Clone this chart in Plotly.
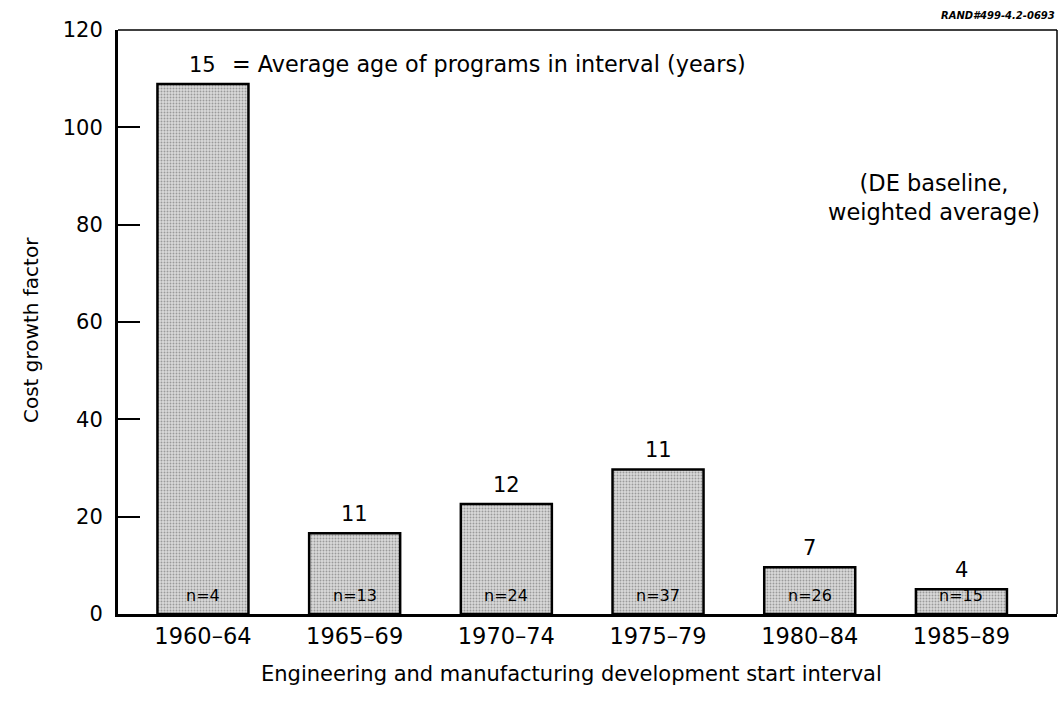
import plotly.graph_objects as go

intervals = ["1960–64", "1965–69", "1970–74", "1975–79", "1980–84", "1985–89"]
cost_growth = [108.9, 16.6, 22.6, 29.7, 9.6, 5.1]
avg_age = [15, 11, 12, 11, 7, 4]
n_programs = [4, 13, 24, 37, 26, 15]
y_ticks = [0, 20, 40, 60, 80, 100, 120]

FONT = "DejaVu Sans, Verdana, sans-serif"
xs = list(range(len(intervals)))

fig = go.Figure()
fig.add_trace(go.Bar(
    x=xs, y=cost_growth, width=0.6,
    marker=dict(color="#d0d0d0",
                line=dict(color="black", width=2.5),
                pattern=dict(shape=".", fgcolor="#5a5a5a", bgcolor="#dadada",
                             size=3, solidity=0.32)),
    hoverinfo="skip", showlegend=False,
))

annotations = []
for i in xs:
    annotations.append(dict(x=i, y=cost_growth[i], xref="x", yref="y", text=str(avg_age[i]),
                            showarrow=False, yanchor="bottom", yshift=5,
                            font=dict(size=21, color="black", family=FONT)))
    annotations.append(dict(x=i, y=0, xref="x", yref="y", text=f"n={n_programs[i]}",
                            showarrow=False, yanchor="middle", yshift=19,
                            font=dict(size=16, color="black", family=FONT)))

annotations += [
    dict(x=0.18, y=cost_growth[0], xref="x", yref="y", xanchor="left", yanchor="bottom", yshift=5,
         text="= Average age of programs in interval (years)", showarrow=False,
         font=dict(size=22.3, color="black", family=FONT)),
    dict(x=(934 - 118) / 939, y=85.5, xref="paper", yref="y", xanchor="center", yanchor="middle",
         text="(DE baseline,<br>weighted average)", showarrow=False, align="center",
         font=dict(size=22.5, color="black", family=FONT)),
    dict(x=1.0, y=1.0, xref="paper", yref="paper", xanchor="right", yanchor="bottom", yshift=7,
         text="<b><i>RAND#499-4.2-0693</i></b>", showarrow=False,
         font=dict(size=10, color="black", family=FONT)),
    dict(x=(571 - 118) / 939, y=0, xref="paper", yref="paper", xanchor="center", yanchor="middle",
         yshift=-60, text="Engineering and manufacturing development start interval", showarrow=False,
         font=dict(size=21, color="black", family=FONT)),
    dict(x=0, y=0.5, xref="paper", yref="paper", xanchor="center", yanchor="middle", xshift=-87,
         yshift=-8, text="Cost growth factor", textangle=-90, showarrow=False,
         font=dict(size=20, color="black", family=FONT)),
]

fig.update_layout(
    width=1061, height=702,
    margin=dict(l=118, r=4, t=30, b=88),
    paper_bgcolor="white", plot_bgcolor="white",
    font=dict(family=FONT, color="black"),
    annotations=annotations,
    shapes=[
        dict(type="line", xref="paper", yref="paper", x0=0, x1=1, y0=1, y1=1,
             line=dict(color="black", width=1.5)),
        dict(type="line", xref="paper", yref="paper", x0=1, x1=1, y0=0, y1=1,
             line=dict(color="black", width=1.5)),
    ],
)
fig.update_xaxes(
    range=[-0.56, 5.63], tickmode="array", tickvals=xs, ticktext=intervals,
    showline=True, linecolor="black", linewidth=3, ticks="", showgrid=False, zeroline=False,
    tickfont=dict(size=22.5, color="black", family=FONT), ticklabelstandoff=0,
)
fig.update_yaxes(
    range=[0, 120], tickmode="array", tickvals=y_ticks,
    showline=True, linecolor="black", linewidth=3, ticks="inside", ticklen=22, tickwidth=1.5,
    tickcolor="black", showgrid=False, zeroline=False,
    tickfont=dict(size=21, color="black", family=FONT), ticklabelstandoff=8,
)

fig.write_html("out.html", config={"displayModeBar": False},
               post_script="document.body.style.margin='0';")
